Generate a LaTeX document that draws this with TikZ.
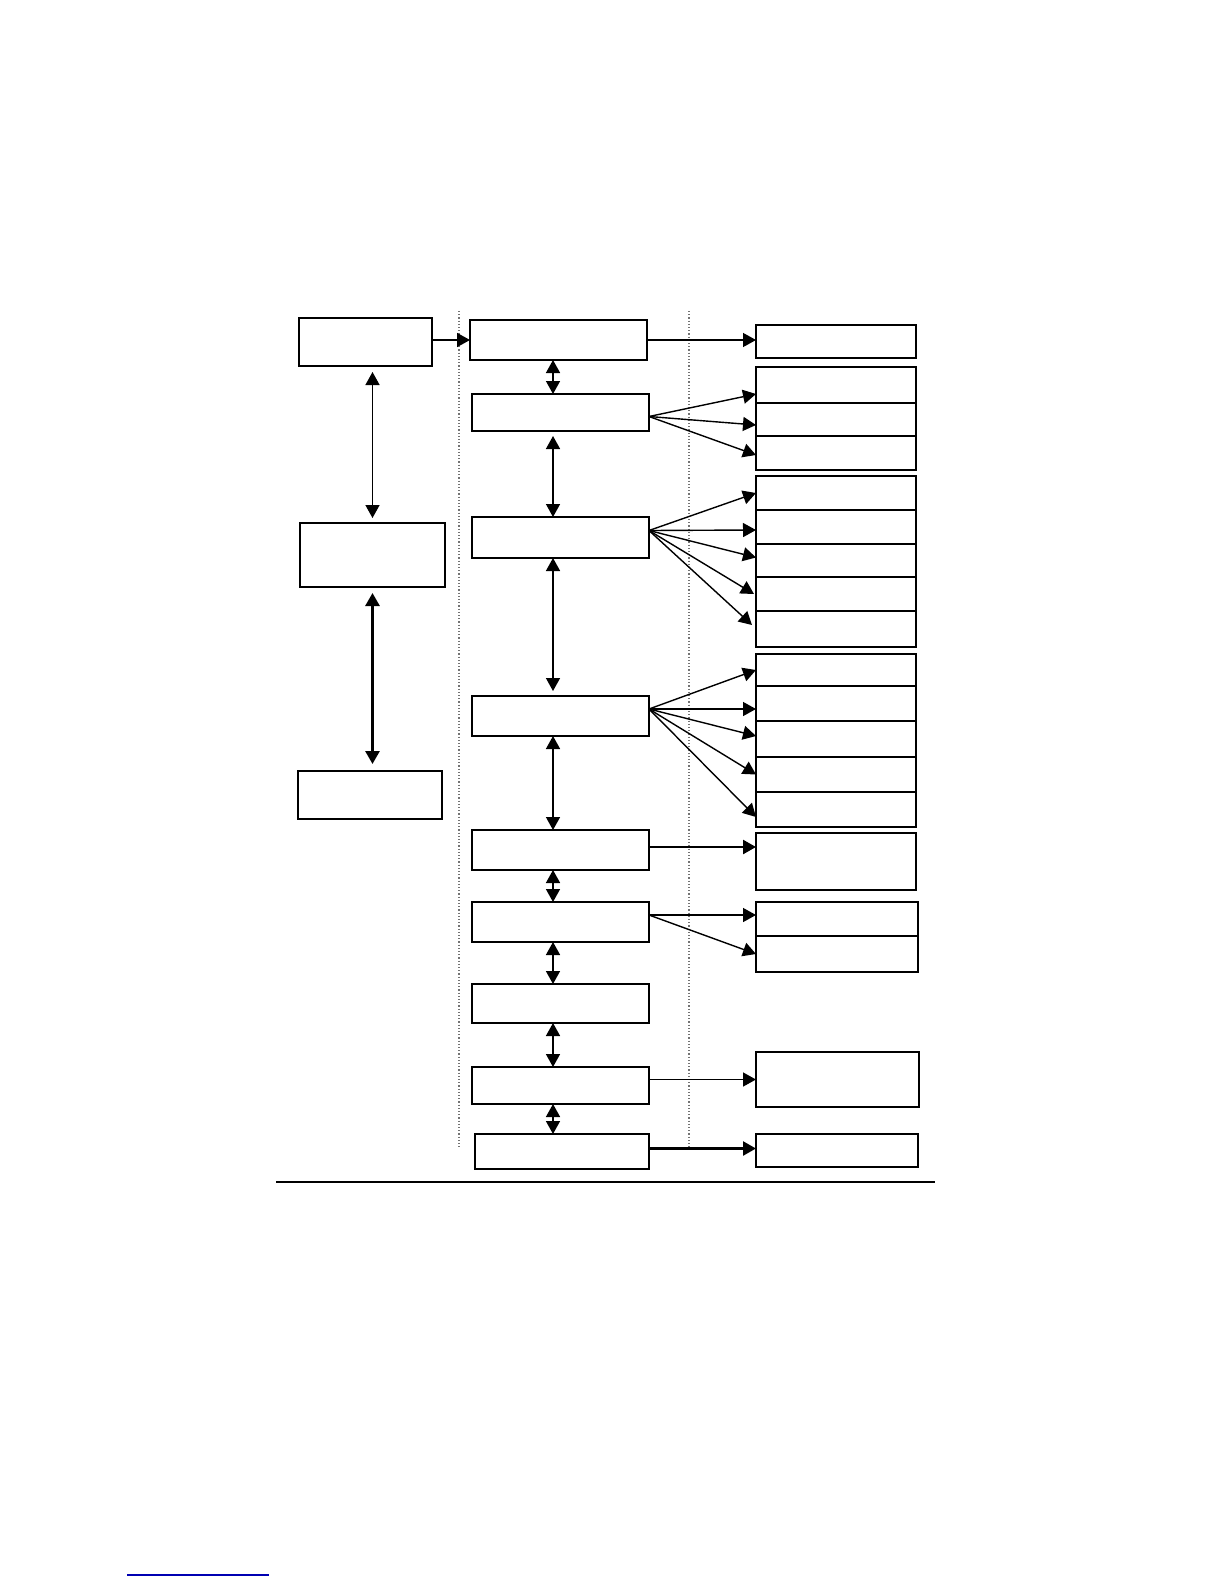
\documentclass[tikz,border=0pt]{standalone}
\usepackage{tikz}
\usetikzlibrary{arrows.meta,fit}

\begin{document}
\begin{tikzpicture}[x=0.5pt,y=-0.5pt,>={Triangle[length=6.5pt,width=7pt]},
  box/.style={draw,line width=.65pt,inner sep=0pt,outer sep=0pt},
  link/.style={->,line width=.7pt},
  both/.style={<->,line width=.75pt},
  heavy/.style={line width=1.4pt},
  sep/.style={draw=black!55,densely dotted,line width=.6pt}]
\useasboundingbox (0,0) rectangle (1224,1584);
% left column
\node[box,fit={(299,318) (432,366)}] (l1) {};
\node[box,fit={(300,523) (445,587)}] (l2) {};
\node[box,fit={(298,771) (442,819)}] (l3) {};
% middle column
\node[box,fit={(470,320) (647,360)}] (m1) {};
\node[box,fit={(472,394) (649,431)}] (m2) {};
\node[box,fit={(472,517) (649,558)}] (m3) {};
\node[box,fit={(472,696) (649,736)}] (m4) {};
\node[box,fit={(472,830) (649,870)}] (m5) {};
\node[box,fit={(472,902) (649,942)}] (m6) {};
\node[box,fit={(472,984) (649,1023)}] (m7) {};
\node[box,fit={(472,1067) (649,1104)}] (m8) {};
\node[box,fit={(475,1134) (649,1169)}] (m9) {};
% right column
\node[box,fit={(756,325) (916,358)}] (r1) {};
\node[box,fit={(756,367) (916,403)}] (r2a) {};
\node[box,fit={(756,403) (916,436)}] (r2b) {};
\node[box,fit={(756,436) (916,470)}] (r2c) {};
\node[box,fit={(756,476) (916,510)}] (r3a) {};
\node[box,fit={(756,510) (916,544)}] (r3b) {};
\node[box,fit={(756,544) (916,577)}] (r3c) {};
\node[box,fit={(756,577) (916,611)}] (r3d) {};
\node[box,fit={(756,611) (916,647)}] (r3e) {};
\node[box,fit={(756,654) (916,686)}] (r4a) {};
\node[box,fit={(756,686) (916,721)}] (r4b) {};
\node[box,fit={(756,721) (916,757)}] (r4c) {};
\node[box,fit={(756,757) (916,792)}] (r4d) {};
\node[box,fit={(756,792) (916,827)}] (r4e) {};
\node[box,fit={(756,833) (916,890)}] (r5) {};
\node[box,fit={(756,902) (918,936)}] (r6a) {};
\node[box,fit={(756,936) (918,972)}] (r6b) {};
\node[box,fit={(756,1052) (919,1107)}] (r7) {};
\node[box,fit={(756,1134) (918,1167)}] (r8) {};
% heavier edges
\foreach \n/\a/\b in {m2/north west/north east,m4/north west/north east,m5/north west/north east,
  m8/south west/south east,m9/south west/south east,r2c/north west/north east,r2c/south west/south east,
  r3b/north west/north east,r3d/north west/north east,r3e/north west/north east,r4d/north west/north east,
  r4e/north west/north east,r5/north west/north east,r6b/north west/north east,r7/south west/south east}
  \draw[heavy] (\n.\a) -- (\n.\b);
% dotted separators
\draw[sep] (459,311) -- (459,1149);
\draw[sep] (689,311) -- (689,1149);
\coordinate (lx) at (372.5,0);
\coordinate (ax) at (553,0);
% left links
\draw[link] (l1.east |- m1.west) -- (m1.west);
\draw[both,shorten <=3pt,shorten >=2.5pt] (l1.south -| lx) -- (l2.north -| lx);
\draw[both,heavy,shorten <=3pt,shorten >=3.5pt] (l2.south -| lx) -- (l3.north -| lx);
% middle chain
\draw[both] (m1.south -| ax) -- (m2.north -| ax);
\draw[both,shorten <=2.5pt] (m2.south -| ax) -- (m3.north -| ax);
\draw[both,shorten >=2.5pt] (m3.south -| ax) -- (m4.north -| ax);
\draw[both] (m4.south -| ax) -- (m5.north -| ax);
\draw[both] (m5.south -| ax) -- (m6.north -| ax);
\draw[both] (m6.south -| ax) -- (m7.north -| ax);
\draw[both] (m7.south -| ax) -- (m8.north -| ax);
\draw[both] (m8.south -| ax) -- (m9.north -| ax);
% to the right column
\draw[link] (m1.east) -- (m1.east -| r1.west);
\draw[link] ([yshift=-2pt]m2.east) -- ([yshift=-4.5pt]r2a.west);
\draw[link] ([yshift=-2pt]m2.east) -- ([yshift=-2.75pt]r2b.west);
\draw[link] ([yshift=-2pt]m2.east) -- ([yshift=-1pt]r2c.west);
\draw[link] ([yshift=3.5pt]m3.east) -- (r3a.west);
\draw[link] ([yshift=3.5pt]m3.east) -- ([yshift=-1.5pt]r3b.west);
\draw[link] ([yshift=3.5pt]m3.east) -- ([yshift=1.5pt]r3c.west);
\draw[link] ([yshift=3.5pt]m3.east) -- ([xshift=-1pt]r3d.west);
\draw[link] ([yshift=3.5pt]m3.east) -- ([xshift=-2pt,yshift=2pt]r3e.west);
\draw[link] ([yshift=3.5pt]m4.east) -- (r4a.west);
\draw[link] ([yshift=3.5pt]m4.east) -- ([yshift=-2.75pt]r4b.west);
\draw[link] ([yshift=3.5pt]m4.east) -- ([yshift=1.5pt]r4c.west);
\draw[link] ([yshift=3.5pt]m4.east) -- (r4d.west);
\draw[link] ([yshift=3.5pt]m4.east) -- ([yshift=-3.75pt]r4e.west);
\draw[link,line width=1.2pt] ([yshift=1.5pt]m5.east) -- ([yshift=1.5pt]m5.east -| r5.west);
\draw[link] ([yshift=3.5pt]m6.east) -- ([yshift=3.5pt]m6.east -| r6a.west);
\draw[link] ([yshift=3.5pt]m6.east) -- (r6b.west);
\draw[link] ([yshift=3pt]m8.east) -- ([yshift=3pt]m8.east -| r7.west);
\draw[link,line width=1.2pt] ([yshift=1.5pt]m9.east) -- ([yshift=1.5pt]m9.east -| r8.west);
% rules at the foot
\draw[line width=.8pt] (276,1182) -- (935,1182);
\draw[blue!70!black,line width=.6pt] (127,1575) -- (269,1575);
\end{tikzpicture}
\end{document}
